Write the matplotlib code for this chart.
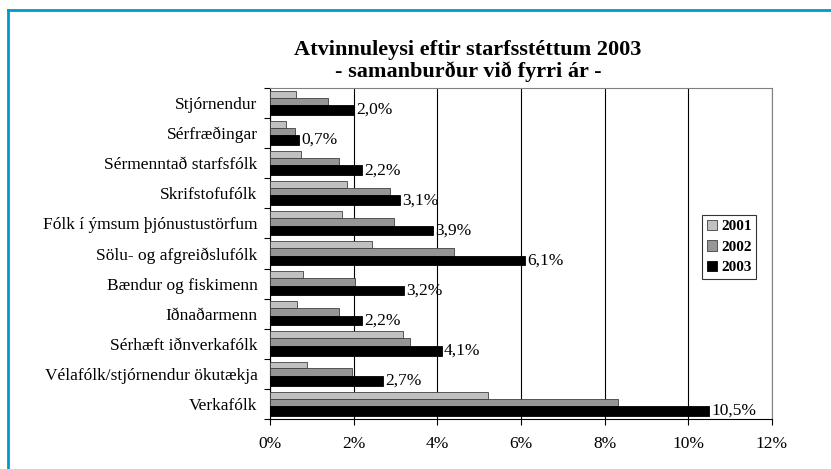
import numpy as np
import matplotlib.pyplot as plt
from matplotlib.lines import Line2D

categories = ['Stjórnendur', 'Sérfræðingar', 'Sérmenntað starfsfólk', 'Skrifstofufólk',
              'Fólk í ýmsum þjónustustörfum', 'Sölu- og afgreiðslufólk', 'Bændur og fiskimenn',
              'Iðnaðarmenn', 'Sérhæft iðnverkafólk', 'Vélafólk/stjórnendur ökutækja', 'Verkafólk']
v2001 = [0.62, 0.38, 0.73, 1.85, 1.71, 2.45, 0.80, 0.64, 3.19, 0.88, 5.21]
v2002 = [1.39, 0.59, 1.66, 2.87, 2.97, 4.41, 2.02, 1.66, 3.34, 1.96, 8.31]
v2003 = [2.0, 0.7, 2.2, 3.1, 3.9, 6.1, 3.2, 2.2, 4.1, 2.7, 10.5]
years = ['2001', '2002', '2003']
colors = ['#c0c0c0', '#969696', '#000000']

plt.rcParams['font.family'] = ['Liberation Serif', 'DejaVu Serif']

fig = plt.figure(figsize=(8.31, 4.69), dpi=100)
ax = fig.add_axes([270/831, 1-419/469, 502/831, 331/469])

y = np.arange(len(categories))
# bar slots within each category (top, bottom), inverted y axis
slots = [(-0.41, -0.18), (-0.18, 0.07), (0.07, 0.39)]
for k, (vals, col) in enumerate(zip([v2001, v2002, v2003], colors)):
    top, bot = slots[k]
    ax.barh(y + (top + bot) / 2, vals, height=bot - top, color=col,
            edgecolor='#000000' if k == 2 else '#404040', linewidth=0.6,
            label=years[k], zorder=3)

c3 = (slots[2][0] + slots[2][1]) / 2
for yi, v in zip(y, v2003):
    ax.text(v + 0.06, yi + c3, f'{v:.1f}%'.replace('.', ','), va='center', ha='left',
            fontsize=12.5, zorder=4)

ax.set_xlim(0, 12)
ax.set_ylim(len(categories) - 0.5, -0.5)
ax.set_xticks(np.arange(0, 13, 2))
ax.set_xticklabels([f'{t}%' for t in range(0, 13, 2)], fontsize=12.5)
ax.set_yticks(y)
ax.set_yticklabels(categories, fontsize=12.5)
ax.set_yticks(np.arange(-0.5, len(categories), 1), minor=True)
ax.tick_params(axis='y', which='major', length=0, pad=9)
ax.tick_params(axis='y', which='minor', length=4, direction='out', width=0.8)
ax.tick_params(axis='x', length=4, direction='out', width=0.8, pad=8)
ax.grid(axis='x', color='#000000', linewidth=0.8, zorder=0)
for s in ['top', 'right']:
    ax.spines[s].set_color('#808080')
for s in ['left', 'bottom']:
    ax.spines[s].set_linewidth(0.8)

leg = fig.legend(loc='upper left', bbox_to_anchor=(702/831, 1-215/469),
                 prop={'weight': 'bold', 'size': 11}, frameon=True, fancybox=False,
                 edgecolor='black', handlelength=0.7, handleheight=0.7,
                 handletextpad=0.25, labelspacing=0.45, borderpad=0.3, borderaxespad=0)
leg.get_frame().set_linewidth(0.8)

fig.text(0.563, 1-61/469, 'Atvinnuleysi eftir starfsstéttum 2003\n- samanburður við fyrri ár -',
         ha='center', va='center', fontsize=16, fontweight='bold', linespacing=1.12)

fig.add_artist(Line2D([8/831, 8/831], [0, 1-10/469], color='#0099cc', linewidth=2,
                      transform=fig.transFigure))
fig.add_artist(Line2D([8/831, 1], [1-10/469, 1-10/469], color='#0099cc', linewidth=2,
                      transform=fig.transFigure))

fig.savefig('out.png', dpi=100)
